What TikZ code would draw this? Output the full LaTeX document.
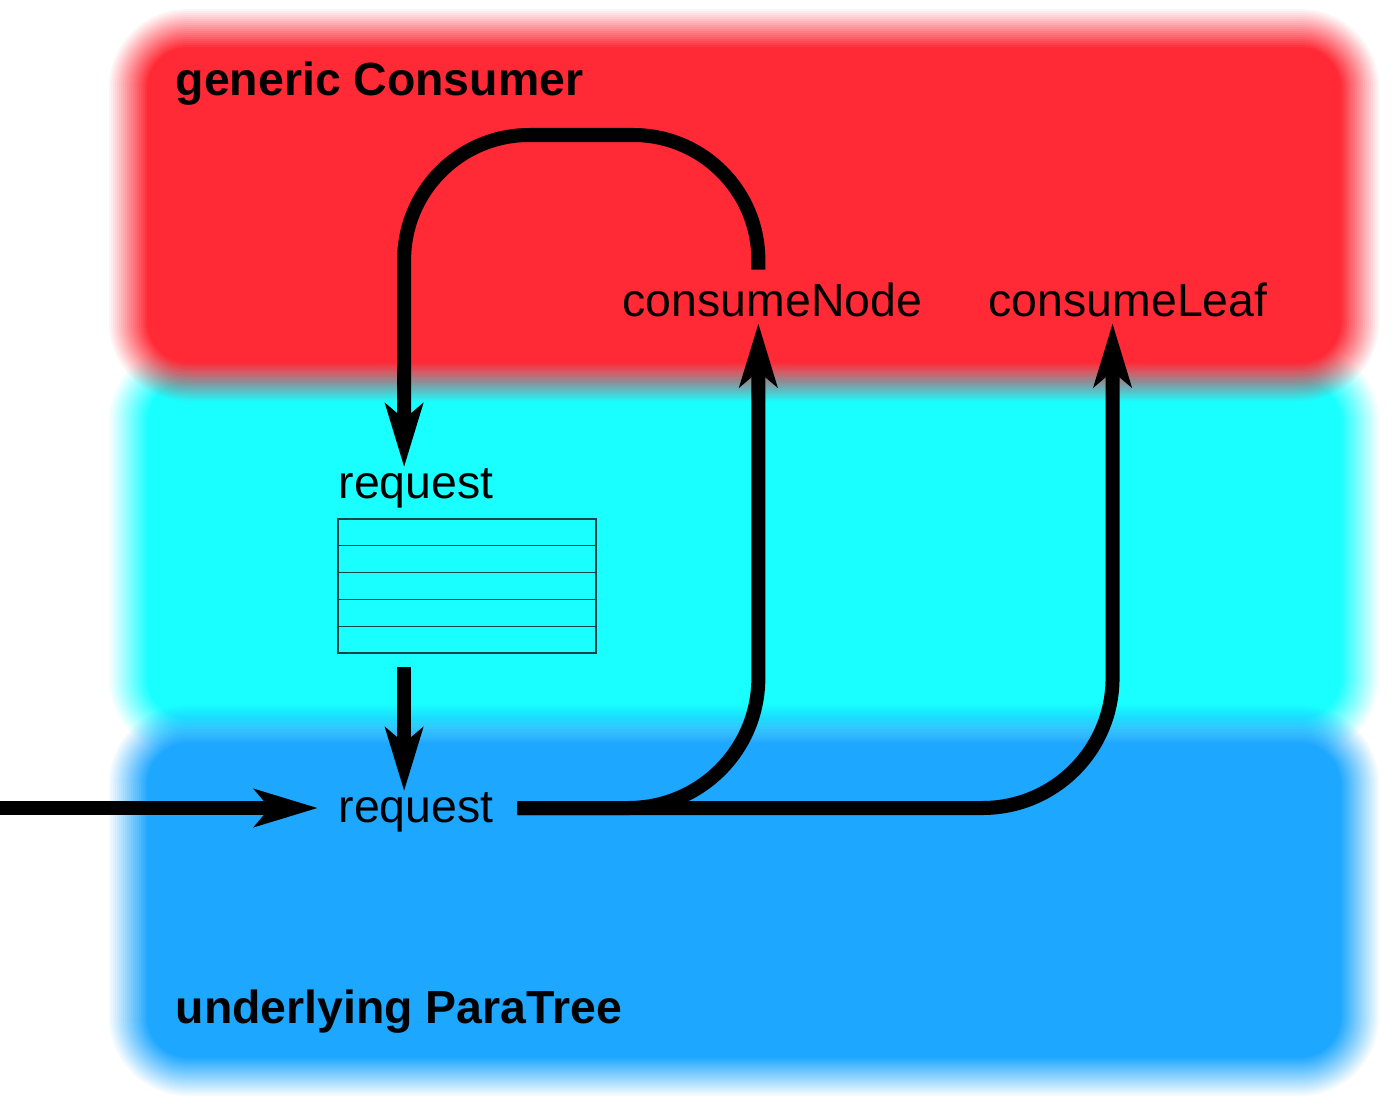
\documentclass[tikz,border=0pt]{standalone}
\usepackage{fontspec}
\setmainfont{Liberation Sans}
\usetikzlibrary{positioning,arrows.meta,calc}
\definecolor{myred}{RGB}{255,42,54}
\definecolor{mycyan}{RGB}{25,255,255}
\definecolor{myblue}{RGB}{30,167,255}
\definecolor{myline}{RGB}{20,70,70}

\begin{document}
\begin{tikzpicture}[x=0.01cm,y=-0.01cm,
	every node/.style={inner sep=0pt,font=\fontsize{13.2pt}{16pt}\selectfont},
	titlenode/.style={anchor=base west,font=\fontsize{13.2pt}{16pt}\selectfont\bfseries},
	fnnode/.style={anchor=base west},
	queuenode/.style={draw=myline,line width=0.4pt,minimum width=2.58cm,minimum height=1.34cm},
	flow/.style={line width=0.14cm,-{Stealth[length=0.63cm,width=0.37cm,inset=0.15cm]}},
	]
	\useasboundingbox (0,0) rectangle (1397,1100);
	
	% the blurred bands
	\foreach \bandcol/\ya/\yb in {mycyan/362/738,myred/28/382,myblue/724/1077}{
		\foreach \i in {1,...,20}{
			\pgfmathsetmacro{\grow}{21-2*\i}
			\pgfmathsetmacro{\op}{1/(21-\i)}
			\pgfmathsetmacro{\rad}{0.6+0.01*\grow}
			\pgfmathsetmacro{\xl}{128-\grow}
			\pgfmathsetmacro{\xr}{1360+\grow}
			\pgfmathsetmacro{\yt}{\ya-\grow}
			\pgfmathsetmacro{\yd}{\yb+\grow}
			\fill[\bandcol,fill opacity=\op,rounded corners=\rad cm] (\xl,\yt) rectangle (\xr,\yd);
		}
	}
	
	% titles
	\node[titlenode] (consumer) at (175,95) {generic Consumer};
	\node[titlenode] (paratree) at (175,1023) {underlying ParaTree};
	
	% functions
	\node[fnnode] (consNode) at (622,316) {consumeNode};
	\node[fnnode] (consLeaf) at (988,316) {consumeLeaf};
	\node[fnnode] (reqTop) at (338,498) {request};
	\node[fnnode] (reqIn) at (338,822) {request};
	
	% the queue
	\node[queuenode] (queue) at (467,586) {};
	\foreach \i in {1,...,4}
	\draw[myline,line width=0.4pt] ($(queue.north west)!\i/5!(queue.south west)$) -- ($(queue.north east)!\i/5!(queue.south east)$);
	
	% end points
	\coordinate (src) at (0,808);
	\coordinate (fork) at ($(reqIn.east |- src)+(0.23cm,0)$);
	\coordinate (nodeTip) at ($(consNode.south)+(-0.14cm,-0.06cm)$);
	\coordinate (leafTip) at ($(consLeaf.south)+(-0.155cm,-0.06cm)$);
	\coordinate (loopStart) at ($(consNode.north)+(-0.14cm,0.12cm)$);
	\coordinate (loopTop) at (580,135);
	\coordinate (reqTip) at ($(reqTop.north)+(-0.12cm,0)$);
	\coordinate (qdrop) at ($(reqIn.north)+(-0.12cm,0)$);
	
	% edges
	\draw[flow,shorten >=0.2cm] (src) -- (src -| reqIn.west);
	\draw[flow,rounded corners=1.3cm] (fork) -| (nodeTip);
	\draw[flow,rounded corners=1.3cm] (fork) -| (leafTip);
	\draw[flow,rounded corners=1.25cm] (loopStart) -- (loopStart |- loopTop) -- (reqTip |- loopTop) -- (reqTip);
	\draw[flow,shorten <=0.13cm] (qdrop |- queue.south) -- (qdrop);
	
\end{tikzpicture}
\end{document}
